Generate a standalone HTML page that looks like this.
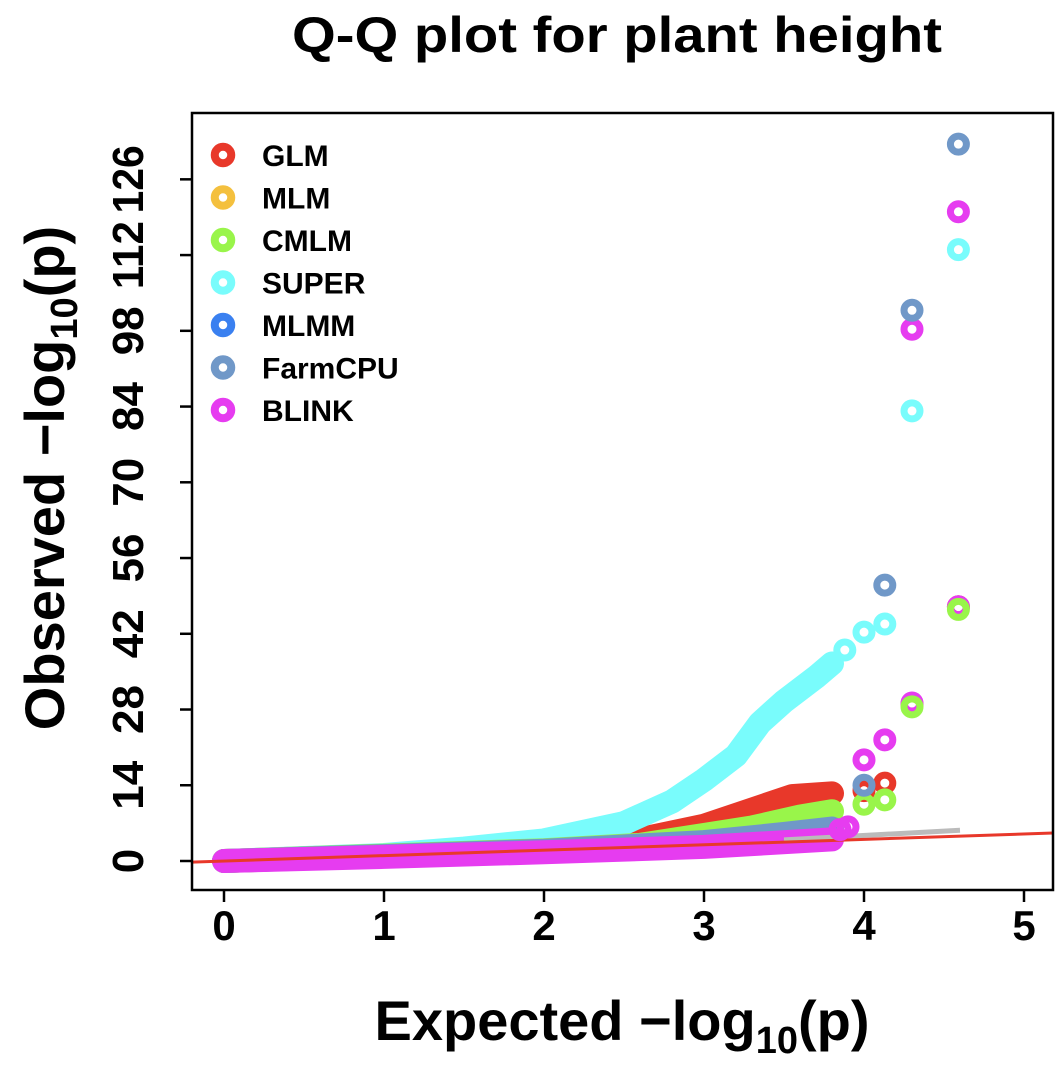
<!DOCTYPE html>
<html><head><meta charset="utf-8"><style>
html,body{margin:0;padding:0;background:#fff;}
svg{display:block;font-family:"Liberation Sans",sans-serif;font-weight:bold;}
</style></head><body>
<svg id="chart" width="1063" height="1069" viewBox="0 0 1063 1069">
<text x="617" y="52" text-anchor="middle" font-size="50" textLength="650" lengthAdjust="spacingAndGlyphs">Q-Q plot for plant height</text>
<g id="bands"></g>
<g id="nullline"></g>
<g id="points"></g>
<rect x="192" y="113" width="861" height="777" fill="none" stroke="#000" stroke-width="2.5"/>
<g id="xaxis"></g>
<g id="yaxis"></g>
<text x="622" y="1040" text-anchor="middle" font-size="56">Expected −log<tspan font-size="38" dy="13">10</tspan><tspan dy="-13">(p)</tspan></text>
<text transform="translate(64,478) rotate(-90)" text-anchor="middle" font-size="56">Observed −log<tspan font-size="38" dy="13">10</tspan><tspan dy="-13">(p)</tspan></text>
<g id="legend"></g>
</svg>
<script>
const xTicks=[0,1,2,3,4,5];
const yTicks=[0,14,28,42,56,70,84,98,112,126];
const seriesNames=["GLM","MLM","CMLM","SUPER","MLMM","FarmCPU","BLINK"];
const seriesColors=["#e8382a","#f4c03e","#99f54a","#79fcfc","#3a80f0","#7098c8","#e63cf0"];
// dense bands: [expected, observed]
const glmBand=[[0,0],[1,1],[2,2.1],[2.5,3.4],[3.0,6.5],[3.3,9.5],[3.55,12],[3.8,12.5]];
const cmlmBand=[[0,0],[1,1],[2,2],[2.6,3],[3.0,4.8],[3.3,6.2],[3.6,8.2],[3.8,9.2]];
const superBand=[[0,0],[1,1.1],[1.5,2.3],[2.0,3.8],[2.5,7],[2.8,11],[3.0,15],[3.2,19.5],[3.35,25.5],[3.5,29.5],[3.7,34],[3.8,36.5]];
const farmBand=[[0,0],[1,0.9],[2,1.9],[3,3.5],[3.5,5],[3.8,6]];
const blinkBand=[[0,0],[1,0.75],[2,1.6],[3,2.6],[3.8,4]];
// top individual points
const glmPts=[[4.0,13],[4.13,14.4],[4.3,29],[4.59,47]];
const cmlmPts=[[4.0,10.5],[4.13,11.3],[4.3,28.5],[4.59,46.5]];
const superPts=[[3.88,39],[4.0,42.3],[4.13,43.8],[4.3,83.2],[4.59,113]];
const farmPts=[[4.0,14],[4.13,51],[4.3,101.8],[4.59,132.5]];
const blinkPts=[[3.85,5.8],[3.9,6.3],[4.0,18.7],[4.13,22.4],[4.3,29.2],[4.59,47],[4.3,98.3],[4.59,120]];
const grayLine=[[3.5,3.9],[4.6,5.7]];
const nullLine=[[-0.2,-0.2],[5.2,5.2]];

const NS="http://www.w3.org/2000/svg";
const sx=v=>224+160*v, sy=v=>861-5.41*v;
function mk(tag,attrs,parent){const e=document.createElementNS(NS,tag);for(const k in attrs)e.setAttribute(k,attrs[k]);parent.appendChild(e);return e;}
const xa=document.getElementById('xaxis'),ya=document.getElementById('yaxis');
xTicks.forEach(t=>{
  const l=mk('line',{x1:sx(t),x2:sx(t),y1:890,y2:902,stroke:'#000','stroke-width':2.5},xa);
  
  
  const tx=mk('text',{x:sx(t),y:940,'text-anchor':'middle','font-size':42},xa);tx.textContent=t;
  
  
});
yTicks.forEach(t=>{
  const l=mk('line',{x1:180,x2:192,y1:sy(t),y2:sy(t),stroke:'#000','stroke-width':2.5},ya);
  
  
  const attrs={transform:`translate(143,${sy(t)}) rotate(-90)`,'text-anchor':'middle','font-size':44};
  if(String(t).length>2){attrs.textLength=68;attrs.lengthAdjust='spacingAndGlyphs';}
  const tx=mk('text',attrs,ya);tx.textContent=t;
  
  
});
const clip=mk('clipPath',{id:'pc'},document.getElementById('chart'));
mk('rect',{x:192,y:113,width:861,height:777},clip);
const nl=document.getElementById('nullline');nl.setAttribute('clip-path','url(#pc)');
const bands=document.getElementById('bands');bands.setAttribute('clip-path','url(#pc)');
const pts=document.getElementById('points');
function path(arr){return arr.map((p,i)=>(i?'L':'M')+sx(p[0]).toFixed(1)+','+sy(p[1]).toFixed(1)).join(' ');}
function band(arr,color,name){
  const p=mk('path',{d:path(arr),fill:'none',stroke:color,'stroke-width':24,'stroke-linecap':'round','stroke-linejoin':'round'},bands);
  
  
}
band(glmBand,seriesColors[0],'glm-band');
band(superBand,seriesColors[3],'super-band');
band(cmlmBand,seriesColors[2],'cmlm-band');
band(farmBand,seriesColors[5],'farmcpu-band');
band(blinkBand,seriesColors[6],'blink-band');
const g=mk('path',{d:path(grayLine),stroke:'#bbb','stroke-width':5,fill:'none'},nl);


const r=mk('path',{d:path(nullLine),stroke:'#e8382a','stroke-width':3,fill:'none'},nl);


function ring(x,y,color,parent,rad,sw){return mk('circle',{cx:x,cy:y,r:rad,fill:'none',stroke:color,'stroke-width':sw},parent);}
function points(arr,color,name){arr.forEach(p=>{
  const c=ring(sx(p[0]),sy(p[1]),color,pts,8,7);
  
  
});}
points(superPts,seriesColors[3],'super-point');
points(glmPts,seriesColors[0],'glm-point');
points(blinkPts,seriesColors[6],'blink-point');
points(cmlmPts,seriesColors[2],'cmlm-point');
points(farmPts,seriesColors[5],'farmcpu-point');
const lg=document.getElementById('legend');
seriesNames.forEach((n,i)=>{
  const y=155+42.5*i;
  const c=ring(223,y,seriesColors[i],lg,8.25,8);
  
  
  const t=mk('text',{x:262,y:y+11,'font-size':30},lg);t.textContent=n;
  
  
});
</script>
</body></html>
